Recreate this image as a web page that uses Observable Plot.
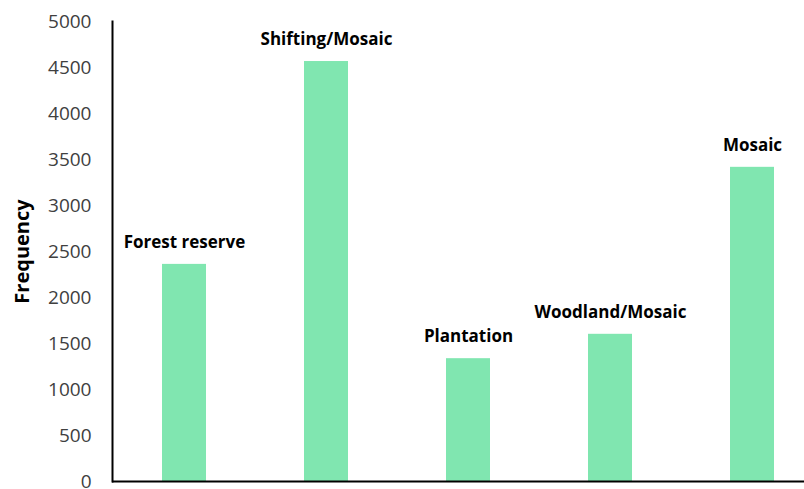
<!DOCTYPE html>
<html>
<head>
<meta charset="utf-8">
<script src="https://cdn.jsdelivr.net/npm/d3@7"></script>
<script src="https://cdn.jsdelivr.net/npm/@observablehq/plot@0.6"></script>
<style>
  html, body { margin: 0; padding: 0; background: #fff; }
</style>
</head>
<body>
<div id="chart"></div>
<script>
const categories = ["Forest reserve", "Shifting/Mosaic", "Plantation", "Woodland/Mosaic", "Mosaic"];
const frequencies = [2360, 4565, 1335, 1600, 3415];
const yTicks = [0, 500, 1000, 1500, 2000, 2500, 3000, 3500, 4000, 4500, 5000];
const yLabel = "Frequency";

const data = categories.map((c, i) => ({category: c, value: frequencies[i]}));

const chart = Plot.plot({
  width: 804,
  height: 489,
  marginTop: 21,
  marginBottom: 8,
  marginLeft: 112,
  marginRight: 0,
  style: {fontFamily: "Open Sans", background: "#fff"},
  x: {domain: categories, range: [112, 824.5], paddingInner: 0.69, paddingOuter: 0.345, axis: null},
  y: {domain: [0, 5000], axis: null},
  marks: [
    Plot.barY(data, {x: "category", y: "value", fill: "#80E6B0"}),
    Plot.axisY({ticks: yTicks, tickFormat: d => String(d), tickSize: 0, tickPadding: 21, fontSize: 19, fill: "#404040", label: null}),
    Plot.frame({anchor: "left", stroke: "#000", strokeWidth: 2}),
    Plot.ruleY([0], {stroke: "#000", strokeWidth: 2}),
    Plot.text(data, {x: "category", y: "value", text: "category", dy: -22, fontSize: 17, fontWeight: "bold", fill: "#000"}),
    Plot.text([yLabel], {frameAnchor: "left", textAnchor: "middle", dx: -90, rotate: -90, text: d => d, fontSize: 20, fontWeight: "bold", fill: "#000"})
  ]
});
document.getElementById("chart").appendChild(chart);
</script>
</body>
</html>
